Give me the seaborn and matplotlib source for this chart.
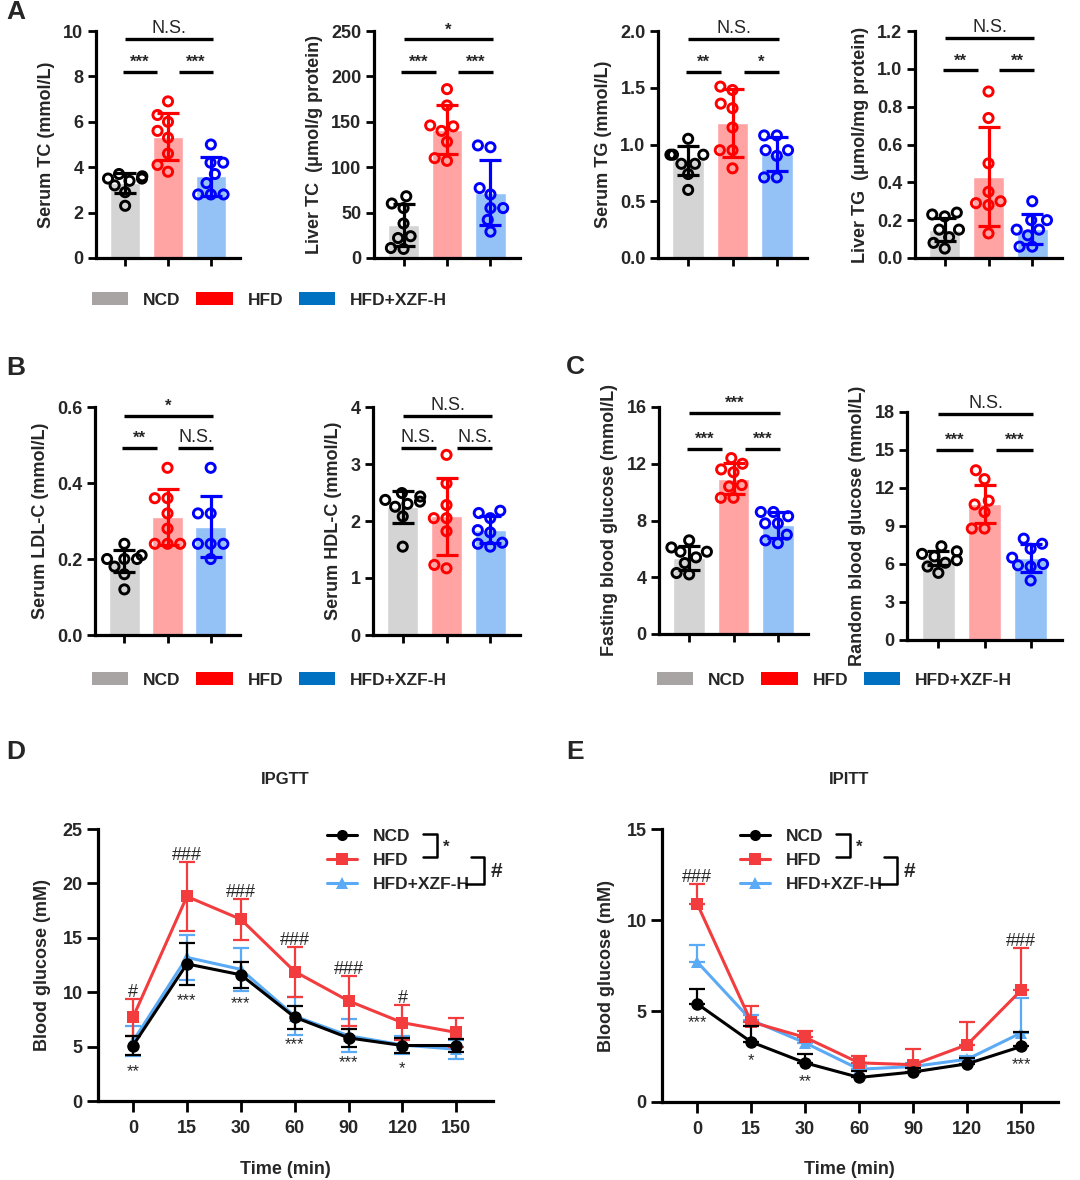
import numpy as np
import pandas as pd
import matplotlib
matplotlib.use("Agg")
import matplotlib.pyplot as plt
import seaborn as sns
from matplotlib.patches import Patch
from matplotlib.lines import Line2D

# ---------------- data ----------------
groups = ["NCD", "HFD", "HFD+XZF-H"]

serum_tc_ncd = [3.5, 3.6, 3.7, 3.4, 3.5, 3.2, 2.9, 2.3]
serum_tc_hfd = [6.9, 6.3, 6.0, 5.6, 5.3, 4.6, 4.1, 3.8]
serum_tc_xzf = [5.0, 4.2, 4.2, 3.7, 3.3, 2.8, 2.8, 2.8]
serum_tc_mean = [3.3, 5.35, 3.6]
serum_tc_sd = [0.45, 1.05, 0.85]

liver_tc_ncd = [68, 60, 55, 38, 24, 22, 11, 10]
liver_tc_hfd = [186, 168, 146, 145, 140, 128, 110, 107]
liver_tc_xzf = [124, 122, 77, 70, 55, 55, 42, 29]
liver_tc_mean = [36, 141, 72]
liver_tc_sd = [23, 27, 36]

serum_tg_ncd = [1.05, 0.91, 0.91, 0.91, 0.83, 0.83, 0.74, 0.60]
serum_tg_hfd = [1.51, 1.48, 1.36, 1.32, 1.15, 0.95, 0.95, 0.79]
serum_tg_xzf = [1.08, 1.08, 0.95, 0.95, 0.90, 0.71, 0.71]
serum_tg_mean = [0.86, 1.19, 0.92]
serum_tg_sd = [0.13, 0.30, 0.15]

liver_tg_ncd = [0.24, 0.23, 0.22, 0.15, 0.15, 0.11, 0.08, 0.05]
liver_tg_hfd = [0.88, 0.74, 0.50, 0.35, 0.30, 0.29, 0.28, 0.13]
liver_tg_xzf = [0.30, 0.20, 0.20, 0.15, 0.15, 0.12, 0.06, 0.06]
liver_tg_mean = [0.15, 0.43, 0.155]
liver_tg_sd = [0.06, 0.26, 0.08]

ldl_ncd = [0.24, 0.21, 0.20, 0.20, 0.20, 0.18, 0.16, 0.12]
ldl_hfd = [0.44, 0.36, 0.36, 0.32, 0.28, 0.24, 0.24, 0.24]
ldl_xzf = [0.44, 0.32, 0.32, 0.24, 0.24, 0.24, 0.20]
ldl_mean = [0.195, 0.31, 0.285]
ldl_sd = [0.03, 0.074, 0.08]

hdl_ncd = [2.49, 2.43, 2.37, 2.34, 2.30, 2.25, 2.08, 1.55]
hdl_hfd = [3.16, 2.66, 2.28, 2.05, 2.05, 1.82, 1.23, 1.17]
hdl_xzf = [2.18, 2.14, 2.05, 1.84, 1.80, 1.62, 1.60, 1.55]
hdl_mean = [2.24, 2.08, 1.85]
hdl_sd = [0.28, 0.67, 0.23]

fbg_ncd = [6.6, 6.1, 5.8, 5.8, 5.4, 5.0, 4.3, 4.2]
fbg_hfd = [12.4, 12.0, 11.6, 11.4, 10.5, 10.4, 9.6, 9.6]
fbg_xzf = [8.6, 8.6, 8.3, 7.8, 7.8, 7.0, 6.6, 6.4]
fbg_mean = [5.35, 10.95, 7.7]
fbg_sd = [0.85, 1.1, 0.9]

rbg_ncd = [7.4, 7.0, 6.8, 6.6, 6.3, 6.1, 5.8, 5.3]
rbg_hfd = [13.4, 12.7, 11.0, 10.7, 10.1, 8.8, 8.8]
rbg_xzf = [8.0, 7.6, 7.2, 6.5, 6.0, 5.9, 5.8, 4.7]
rbg_mean = [6.45, 10.7, 6.5]
rbg_sd = [0.55, 1.5, 1.1]

times = ["0", "15", "30", "60", "90", "120", "150"]

ipgtt_ncd_mean = [5.1, 12.6, 11.6, 7.7, 5.8, 5.1, 5.1]
ipgtt_ncd_sd = [0.9, 1.9, 1.2, 1.05, 0.8, 0.7, 0.6]
ipgtt_hfd_mean = [7.7, 18.8, 16.7, 11.9, 9.2, 7.2, 6.3]
ipgtt_hfd_sd = [1.7, 3.2, 1.9, 2.3, 2.3, 1.6, 1.3]
ipgtt_xzf_mean = [5.5, 13.2, 12.1, 7.8, 6.0, 5.15, 4.75]
ipgtt_xzf_sd = [1.4, 2.1, 2.0, 1.75, 1.5, 0.8, 0.9]
ipgtt_hash = ["#", "###", "###", "###", "###", "#", ""]
ipgtt_star = ["**", "***", "***", "***", "***", "*", ""]

ipitt_ncd_mean = [5.4, 3.3, 2.15, 1.35, 1.65, 2.1, 3.05]
ipitt_ncd_sd = [0.8, 0.9, 0.5, 0.35, 0.2, 0.3, 0.8]
ipitt_hfd_mean = [10.9, 4.4, 3.55, 2.15, 2.05, 3.15, 6.15]
ipitt_hfd_sd = [1.1, 0.9, 0.37, 0.4, 0.85, 1.25, 2.3]
ipitt_xzf_mean = [7.7, 4.5, 3.25, 1.8, 1.95, 2.35, 3.8]
ipitt_xzf_sd = [0.95, 0.3, 0.3, 0.2, 0.2, 0.2, 1.9]
ipitt_hash = ["###", "", "", "", "", "", "###"]
ipitt_star = ["***", "*", "**", "", "", "", "***"]

# ---------------- style ----------------
sns.set_theme(style="ticks")
plt.rcParams["font.family"] = ["Liberation Sans", "DejaVu Sans"]
plt.rcParams["font.weight"] = "bold"
plt.rcParams["axes.labelweight"] = "bold"

bar_colors = ["#D4D4D4", "#FFA3A3", "#94C2F7"]
pt_colors = ["#000000", "#FF0000", "#0000FF"]
leg_colors = ["#A8A4A4", "#FF0000", "#0070C0"]
line_colors = {"NCD": "#000000", "HFD": "#F23C3E", "HFD+XZF-H": "#5AAAF5"}

W, H = 1080, 1180
fig = plt.figure(figsize=(W / 100, H / 100), dpi=100)


def add_ax(l, t, r, b):
    return fig.add_axes([l / W, 1 - b / H, (r - l) / W, (b - t) / H])


def style_axis(ax, tick_len=7):
    sns.despine(ax=ax)
    for s in ["left", "bottom"]:
        ax.spines[s].set_linewidth(2.3)
        ax.spines[s].set_color("black")
    ax.tick_params(axis="both", direction="out", length=tick_len, width=2.0,
                   color="black", labelsize=13, pad=3)
    for lab in ax.get_yticklabels() + ax.get_xticklabels():
        lab.set_fontweight("bold")


def bar_panel(ax, pts, means, sds, ylim, yticks, yfmt, ylabel, sig, low_y, top_y):
    df = pd.DataFrame({"group": groups, "mean": means})
    sns.barplot(data=df, x="group", y="mean", hue="group", order=groups,
                hue_order=groups, palette=bar_colors, width=0.71, saturation=1,
                errorbar=None, legend=False, ax=ax, zorder=1)
    long = pd.DataFrame({
        "group": np.repeat(groups, [len(p) for p in pts]),
        "value": np.concatenate([np.asarray(p, float) for p in pts]),
    })
    sns.swarmplot(data=long, x="group", y="value", hue="group", order=groups,
                  hue_order=groups, palette=pt_colors, size=6.6, legend=False,
                  ax=ax, zorder=3)
    for coll in ax.collections:
        fc = coll.get_facecolor()
        coll.set_edgecolor(fc)
        coll.set_facecolor("none")
        coll.set_linewidth(2.1)
    for i, (m, s) in enumerate(zip(means, sds)):
        ax.errorbar(i, m, yerr=s, fmt="none", ecolor=pt_colors[i], elinewidth=2.3,
                    capsize=8, capthick=2.3, zorder=4)
    ax.set_xlim(-0.68, 2.68)
    ax.set_ylim(*ylim)
    ax.set_yticks(yticks)
    ax.set_yticklabels([yfmt.format(v) for v in yticks])
    ax.set_xticks([0, 1, 2])
    ax.set_xticklabels(["", "", ""])
    ax.set_xlabel("")
    ax.set_ylabel(ylabel, fontsize=13, fontweight="bold", labelpad=6)
    style_axis(ax, tick_len=6)
    tr = ax.get_xaxis_transform()
    segs = [((-0.05, 0.75), low_y, sig[0]), ((1.25, 2.05), low_y, sig[1]),
            ((0.0, 2.05), top_y, sig[2])]
    for (x0, x1), yy, txt in segs:
        ax.plot([x0, x1], [yy, yy], color="black", lw=2.4, transform=tr,
                clip_on=False, solid_capstyle="butt")
        is_ns = txt.startswith("N")
        ax.annotate(txt, ((x0 + x1) / 2, yy), xycoords=tr, xytext=(0, 1.5),
                    textcoords="offset points", ha="center", va="bottom",
                    fontsize=13 if is_ns else 12,
                    fontweight="normal" if is_ns else "bold",
                    annotation_clip=False)


# ---------------- panel A ----------------
axA1 = add_ax(96, 31, 240, 258)
bar_panel(axA1, [serum_tc_ncd, serum_tc_hfd, serum_tc_xzf], serum_tc_mean, serum_tc_sd,
          (0, 10), [0, 2, 4, 6, 8, 10], "{:g}", "Serum TC (mmol/L)",
          ["***", "***", "N.S."], 0.82, 0.963)
axA2 = add_ax(374, 31, 520, 258)
bar_panel(axA2, [liver_tc_ncd, liver_tc_hfd, liver_tc_xzf], liver_tc_mean, liver_tc_sd,
          (0, 250), [0, 50, 100, 150, 200, 250], "{:g}", "Liver TC  (\u03bcmol/g protein)",
          ["***", "***", "*"], 0.82, 0.963)
axA3 = add_ax(658, 31, 807, 258)
bar_panel(axA3, [serum_tg_ncd, serum_tg_hfd, serum_tg_xzf], serum_tg_mean, serum_tg_sd,
          (0, 2.0), [0, 0.5, 1.0, 1.5, 2.0], "{:.1f}", "Serum TG (mmol/L)",
          ["**", "*", "N.S."], 0.82, 0.963)
axA4 = add_ax(915, 31, 1062, 258)
bar_panel(axA4, [liver_tg_ncd, liver_tg_hfd, liver_tg_xzf], liver_tg_mean, liver_tg_sd,
          (0, 1.2), [0, 0.2, 0.4, 0.6, 0.8, 1.0, 1.2], "{:.1f}", "Liver TG  (\u03bcmol/mg protein)",
          ["**", "**", "N.S."], 0.826, 0.97)

# ---------------- panel B ----------------
axB1 = add_ax(95, 407, 240, 635)
bar_panel(axB1, [ldl_ncd, ldl_hfd, ldl_xzf], ldl_mean, ldl_sd,
          (0, 0.6), [0, 0.2, 0.4, 0.6], "{:.1f}", "Serum LDL-C (mmol/L)",
          ["**", "N.S.", "*"], 0.82, 0.962)
axB2 = add_ax(373, 407, 520, 635)
bar_panel(axB2, [hdl_ncd, hdl_hfd, hdl_xzf], hdl_mean, hdl_sd,
          (0, 4), [0, 1, 2, 3, 4], "{:g}", "Serum HDL-C (mmol/L)",
          ["N.S.", "N.S.", "N.S."], 0.82, 0.962)

# ---------------- panel C ----------------
axC1 = add_ax(659, 407, 808, 634)
bar_panel(axC1, [fbg_ncd, fbg_hfd, fbg_xzf], fbg_mean, fbg_sd,
          (0, 16), [0, 4, 8, 12, 16], "{:g}", "Fasting blood glucose (mmol/L)",
          ["***", "***", "***"], 0.817, 0.974)
axC2 = add_ax(907, 412, 1062, 640)
bar_panel(axC2, [rbg_ncd, rbg_hfd, rbg_xzf], rbg_mean, rbg_sd,
          (0, 18), [0, 3, 6, 9, 12, 15, 18], "{:g}", "Random blood glucose (mmol/L)",
          ["***", "***", "N.S."], 0.835, 0.99)

# group legends
patch_handles = [Patch(facecolor=c, edgecolor="none") for c in leg_colors]
for (lx, ly) in [(92, 300), (92, 680), (657, 680)]:
    fig.legend(patch_handles, groups, loc="center left",
               bbox_to_anchor=(lx / W, 1 - ly / H), bbox_transform=fig.transFigure,
               ncol=3, frameon=False, handlelength=2.1, handleheight=0.75,
               handletextpad=0.85, columnspacing=0.9, borderpad=0, borderaxespad=0,
               prop={"size": 12.5, "weight": "bold"})


# ---------------- panels D / E ----------------
def line_panel(ax, series, hashes, stars, ylim, yticks, upper_only, title, title_x,
               leg_anchor, star_off):
    pos = list(range(len(times)))
    order = [("HFD+XZF-H", "^", 2), ("HFD", "s", 3), ("NCD", "o", 4)]
    for name, mk, z in order:
        m, s = series[name]
        c = line_colors[name]
        yerr = [np.zeros(len(s)), s] if upper_only else s
        ax.errorbar(pos, m, yerr=yerr, fmt="none", ecolor=c, elinewidth=1.6,
                    capsize=6, capthick=1.6, zorder=z - 0.5)
        sns.lineplot(x=pos, y=m, color=c, marker=mk, markersize=9,
                     markeredgewidth=0, linewidth=2.2, ax=ax, zorder=z)
    hm, hs = series["HFD"]
    nm, ns = series["NCD"]
    for i in pos:
        if hashes[i]:
            ax.annotate(hashes[i], (i, hm[i] + hs[i]), xytext=(0, -1.5),
                        textcoords="offset points", ha="center", va="bottom",
                        fontsize=13, fontweight="normal", annotation_clip=False)
        if stars[i]:
            base = nm[i] if upper_only else nm[i] - ns[i]
            ax.annotate(stars[i], (i, base), xytext=(0, star_off),
                        textcoords="offset points", ha="center", va="top",
                        fontsize=12, fontweight="normal", annotation_clip=False)
    ax.set_xlim(-0.65, 6.68)
    ax.set_ylim(*ylim)
    ax.set_yticks(yticks)
    ax.set_xticks(pos)
    ax.set_xticklabels(times)
    ax.set_xlabel("")
    ax.set_ylabel("Blood glucose (mM)", fontsize=13, fontweight="bold", labelpad=8)
    style_axis(ax, tick_len=8)
    ax.tick_params(axis="x", pad=6)
    handles = [Line2D([], [], color=line_colors[g], marker=mk, markersize=8,
                      markeredgewidth=0, linewidth=2.2)
               for g, mk in zip(groups, ["o", "s", "^"])]
    leg = ax.legend(handles, groups, loc="upper left", bbox_to_anchor=leg_anchor,
                    frameon=False, handlelength=1.75, handletextpad=0.9,
                    labelspacing=0.5, borderpad=0, borderaxespad=0,
                    prop={"size": 12.5, "weight": "bold"})
    fig.text(title_x / W, 1 - 780 / H, title, ha="center", va="center",
             fontsize=12, fontweight="bold")
    fig.text(title_x / W, 1 - 1170 / H, "Time (min)", ha="center", va="center",
             fontsize=13, fontweight="bold")
    return leg


axD = add_ax(98, 829, 493, 1101)
legD = line_panel(axD, {"NCD": (ipgtt_ncd_mean, ipgtt_ncd_sd),
                        "HFD": (ipgtt_hfd_mean, ipgtt_hfd_sd),
                        "HFD+XZF-H": (ipgtt_xzf_mean, ipgtt_xzf_sd)},
                  ipgtt_hash, ipgtt_star, (0, 25), [0, 5, 10, 15, 20, 25], False,
                  "IPGTT", 285, ((327 - 98) / 395, 1.0), -6)
axE = add_ax(662, 829, 1058, 1102)
legE = line_panel(axE, {"NCD": (ipitt_ncd_mean, ipitt_ncd_sd),
                        "HFD": (ipitt_hfd_mean, ipitt_hfd_sd),
                        "HFD+XZF-H": (ipitt_xzf_mean, ipitt_xzf_sd)},
                  ipitt_hash, ipitt_star, (0, 15), [0, 5, 10, 15], True,
                  "IPITT", 849, ((740 - 662) / 396, 1.0), -8)

# brackets next to the line legends
fig.canvas.draw()
renderer = fig.canvas.get_renderer()
inv = fig.transFigure.inverted()


def fig_line(pts_disp):
    pf = inv.transform(np.array(pts_disp, float))
    fig.add_artist(Line2D(pf[:, 0], pf[:, 1], color="black", lw=1.8,
                          transform=fig.transFigure))


def fig_txt(xd, yd, s, size, weight):
    xf, yf = inv.transform((xd, yd))
    fig.text(xf, yf, s, ha="left", va="center", fontsize=size, fontweight=weight)


for leg in (legD, legE):
    tb = [t.get_window_extent(renderer) for t in leg.get_texts()]
    cy = [(b.y0 + b.y1) / 2 + 3 for b in tb]
    xr01 = max(tb[0].x1, tb[1].x1)
    vx1 = xr01 + 26
    fig_line([(xr01 + 12, cy[0]), (vx1, cy[0]), (vx1, cy[1]), (xr01 + 12, cy[1])])
    fig_txt(vx1 + 6, (cy[0] + cy[1]) / 2 - 2, "*", 12, "bold")
    vx2 = tb[2].x1 + 14
    fig_line([(vx2 - 13, cy[1]), (vx2, cy[1]), (vx2, cy[2] - 3), (tb[2].x1 - 4, cy[2] - 3)])
    fig_txt(vx2 + 7, (cy[1] + cy[2]) / 2 - 2, "#", 15, "bold")

# panel letters
for lbl, x, y in [("A", 6, 12), ("B", 6, 368), ("C", 566, 367), ("D", 6, 752), ("E", 566, 752)]:
    fig.text(x / W, 1 - y / H, lbl, ha="left", va="center", fontsize=19, fontweight="bold")

fig.savefig("out.png", dpi=100)
